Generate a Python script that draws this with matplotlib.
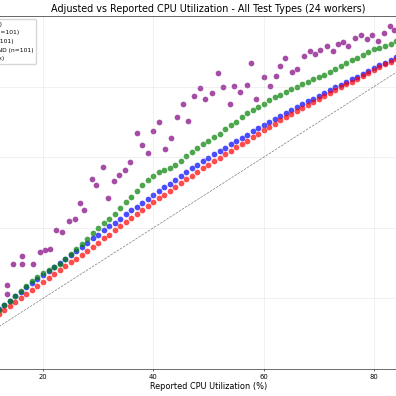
import matplotlib
matplotlib.use("Agg")
import matplotlib.pyplot as plt

# reported CPU % (0..100, step 1) shared by the three smooth test types
reported = list(range(101))

cpu_bound = [0.0, 1.5, 3.0, 4.5, 5.9, 7.5, 8.9, 10.2, 11.6, 13.0,
             14.4, 15.7, 16.9, 18.2, 19.4, 20.7, 21.8, 23.1, 24.3, 25.5,
             26.7, 27.8, 29.0, 30.1, 31.2, 32.4, 33.5, 34.6, 35.7, 37.0,
             38.1, 39.3, 40.4, 41.5, 42.6, 43.8, 44.9, 46.0, 47.1, 48.2,
             49.3, 50.4, 51.5, 52.5, 53.6, 54.7, 55.7, 56.8, 57.7, 58.8,
             59.8, 60.8, 61.7, 62.6, 63.6, 64.6, 65.5, 66.4, 67.4, 68.2,
             69.2, 70.0, 70.8, 71.8, 72.6, 73.4, 74.2, 75.0, 75.8, 76.6,
             77.4, 78.2, 78.9, 79.8, 80.5, 81.3, 82.1, 82.8, 83.7, 84.4,
             85.2, 86.0, 86.8, 87.5, 88.3, 89.1, 89.9, 90.6, 91.4, 92.2,
             93.0, 93.8, 94.4, 95.2, 95.9, 96.7, 97.4, 98.2, 98.9, 99.6,
             100.4]

io_bound = [0.0, 1.4, 2.7, 4.1, 5.4, 6.8, 8.1, 9.3, 10.6, 11.8,
            13.1, 14.3, 15.5, 16.7, 17.8, 19.0, 20.1, 21.3, 22.4, 23.6,
            24.7, 25.8, 26.9, 28.0, 29.1, 30.2, 31.3, 32.4, 33.5, 34.7,
            35.8, 37.0, 38.1, 39.3, 40.4, 41.6, 42.7, 43.8, 45.0, 46.1,
            47.2, 48.3, 49.4, 50.5, 51.6, 52.7, 53.7, 54.8, 55.8, 56.9,
            57.9, 58.9, 59.9, 60.8, 61.8, 62.8, 63.8, 64.7, 65.7, 66.6,
            67.6, 68.5, 69.4, 70.4, 71.3, 72.2, 73.1, 73.9, 74.8, 75.6,
            76.5, 77.3, 78.1, 79.0, 79.8, 80.6, 81.4, 82.2, 83.1, 83.9,
            84.7, 85.5, 86.3, 87.1, 87.9, 88.7, 89.5, 90.3, 91.1, 91.9,
            92.7, 93.5, 94.2, 95.0, 95.7, 96.5, 97.3, 98.1, 98.8, 99.6,
            100.4]

memory_bound = [0.0, 1.4, 2.8, 4.2, 5.6, 7.0, 8.4, 9.8, 11.2, 12.6,
                14.0, 15.3, 16.7, 18.0, 19.4, 20.8, 22.1, 23.4, 24.8, 26.1,
                27.3, 28.0, 28.8, 29.7, 31.2, 32.7, 34.0, 35.4, 36.9, 38.4,
                40.0, 41.3, 42.6, 44.0, 45.6, 47.2, 48.8, 50.4, 52.0, 53.5,
                54.8, 55.9, 56.3, 56.8, 57.8, 59.0, 60.3, 61.6, 62.7, 63.8,
                64.6, 65.8, 66.7, 68.0, 69.1, 70.1, 71.3, 72.4, 73.3, 74.3,
                75.2, 76.2, 77.0, 77.7, 78.5, 79.2, 80.0, 80.6, 81.4, 82.1,
                82.8, 83.4, 84.2, 85.1, 85.9, 86.7, 87.4, 88.2, 89.0, 89.8,
                90.6, 90.8, 91.4, 92.2, 92.9, 93.6, 94.3, 95.0, 95.7, 96.3,
                97.0, 97.6, 98.2, 98.8, 99.4, 99.7, 99.9, 100.0, 100.0, 100.0,
                100.0]

# burst test: noisy, reported values are not on the integer grid
burst_reported = [0.3, 1.2, 2.1, 3.3, 4.2, 5.1, 6.2, 7.3, 8.1, 9.2, 10.3, 11.2,
                  13.41, 13.52, 14.50, 16.13, 16.19, 18.23, 19.39, 20.41, 21.26,
                  22.40, 23.53, 24.76, 25.85, 26.70, 27.48, 28.84, 29.65, 30.81,
                  31.87, 32.86, 33.73, 34.86, 35.80, 37.12, 37.99, 39.03, 39.93,
                  41.02, 42.05, 43.14, 44.23, 45.31, 46.33, 47.36, 48.45, 49.41,
                  50.57, 51.66, 52.67, 53.89, 54.67, 55.70, 56.92, 57.79, 58.60,
                  60.05, 61.14, 62.23, 62.95, 63.91, 65.07, 66.03, 67.25, 68.39,
                  69.30, 70.20, 71.47, 72.50, 73.52, 74.42, 75.37, 76.55, 77.63,
                  78.67, 79.66, 80.77, 81.75, 82.82, 83.61,
                  84.6, 85.4, 86.3, 87.1, 87.9, 88.8, 89.6, 90.4, 91.2, 92.1,
                  92.9, 93.8, 94.6, 95.4, 96.2, 97.1, 97.9, 98.7, 99.4, 100.0]
burst_adjusted = [2.0, 4.5, 7.8, 6.9, 10.2, 12.5, 11.8, 15.6, 17.2, 16.4, 20.8, 22.5,
                  23.8, 21.2, 29.7, 32.1, 29.7, 29.7, 33.1, 33.6, 34.0,
                  39.4, 38.9, 42.0, 42.4, 47.0, 45.0, 53.8, 52.1, 57.1,
                  48.3, 53.3, 54.9, 56.3, 58.7, 66.8, 63.5, 61.2, 67.3,
                  70.0, 62.4, 65.4, 71.3, 75.1, 70.3, 77.3, 79.6, 76.6,
                  78.2, 83.8, 80.0, 75.1, 80.2, 78.4, 80.4, 86.8, 76.6,
                  82.7, 80.2, 83.1, 85.9, 88.2, 84.0, 85.0, 88.8, 90.0,
                  89.1, 90.4, 91.6, 90.1, 92.0, 92.5, 91.6, 93.7, 94.6,
                  93.5, 94.7, 92.9, 95.1, 97.2, 95.9,
                  96.8, 97.9, 96.5, 98.4, 99.1, 97.8, 99.5, 100.0, 98.9, 100.0,
                  99.6, 100.0, 100.0, 99.8, 100.0, 100.0, 100.0, 100.0, 100.0, 100.0]

fig = plt.figure(figsize=(3.96, 3.96), dpi=100)
# the visible picture is a crop of a wider axes, so it hangs off the canvas
ax = fig.add_axes([-0.170, 0.0682, 1.393, 0.8914])

ax.scatter(burst_reported, burst_adjusted, s=17, c='purple', alpha=0.7,
           linewidths=0, label=f'BURST (n={len(burst_reported)})')
ax.scatter(reported, cpu_bound, s=17, c='blue', alpha=0.7,
           linewidths=0, label=f'CPU_BOUND (n={len(cpu_bound)})')
ax.scatter(reported, io_bound, s=17, c='red', alpha=0.7,
           linewidths=0, label=f'IO_BOUND (n={len(io_bound)})')
ax.scatter(reported, memory_bound, s=17, c='green', alpha=0.7,
           linewidths=0, label=f'MEMORY_BOUND (n={len(memory_bound)})')
ax.plot([0, 100], [0, 100], 'k--', alpha=0.5, lw=0.5, label='Reference (y=x)')

ax.set_xlim(0, 100)
ax.set_ylim(0, 100)
ax.set_xlabel('Reported CPU Utilization (%)', fontsize=5.9, labelpad=1.7)
ax.set_ylabel('Adjusted CPU Utilization (%)', fontsize=5.9)
ax.set_title('Adjusted vs Reported CPU Utilization - All Test Types (24 workers)',
             fontsize=6.9, pad=2.9)
ax.tick_params(labelsize=4.9, length=1.7, width=0.4, pad=1.7)
ax.grid(True, alpha=0.3, lw=0.4)
for sp in ax.spines.values():
    sp.set_linewidth(0.4)
ax.legend(loc='upper left', fontsize=4.3, framealpha=0.8, edgecolor='0.8')

fig.savefig('out.png', dpi=100)
